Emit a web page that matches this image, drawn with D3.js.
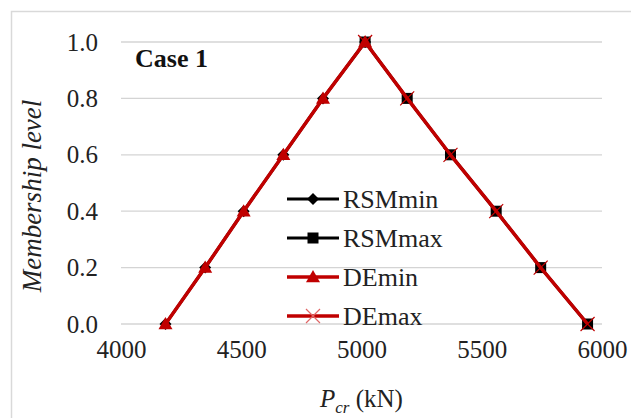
<!DOCTYPE html>
<html>
<head>
<meta charset="utf-8">
<script src="https://cdn.jsdelivr.net/npm/d3@7"></script>
<style>
  html, body { margin: 0; padding: 0; background: #fff; }
  svg { display: block; }
  svg text { font-family: "Liberation Serif", "Times New Roman", Times, "DejaVu Serif", serif; }
</style>
</head>
<body>
<svg id="chart" width="631" height="418"></svg>
<script>
// ---- data ----
const levels = [0, 0.2, 0.4, 0.6, 0.8, 1.0];
const rsmMin = [4185, 4350, 4510, 4675, 4840, 5015];
const rsmMax = [5940, 5745, 5560, 5370, 5190, 5015];
const deMin  = [4185, 4350, 4510, 4675, 4840, 5015];
const deMax  = [5940, 5745, 5560, 5370, 5190, 5015];
const xTicks = [4000, 4500, 5000, 5500, 6000];
const yTicks = [0, 0.2, 0.4, 0.6, 0.8, 1.0];
const seriesNames = ["RSMmin", "RSMmax", "DEmin", "DEmax"];

const RED = "#c00000";

const svg = d3.select("#chart");
const plot = { left: 121, right: 602, top: 42, bottom: 324 };

// chart area border
svg.append("rect").attr("x", 11.5).attr("y", 11.5).attr("width", 640).attr("height", 430)
  .attr("fill", "#fff").attr("stroke", "#d9d9d9").attr("stroke-width", 1.5);

const x = d3.scaleLinear().domain([4000, 6000]).range([plot.left, plot.right]);
const y = d3.scaleLinear().domain([0, 1]).range([plot.bottom, plot.top]);

// gridlines
svg.append("g").selectAll("line").data(yTicks).join("line")
  .attr("x1", plot.left).attr("x2", plot.right)
  .attr("y1", d => y(d)).attr("y2", d => y(d))
  .attr("stroke", "#d4d4d4").attr("stroke-width", 1.3);

function styleText(sel, size) {
  sel.attr("font-family", null).style("font-size", size + "px").attr("fill", "#222");
}

// y axis labels
const yAxis = d3.axisLeft(y).tickValues(yTicks).tickFormat(d3.format(".1f")).tickSize(0).tickPadding(23);
svg.append("g").attr("transform", `translate(${plot.left},0)`).call(yAxis)
  .attr("font-family", null).attr("font-size", null)
  .call(g => g.select(".domain").remove())
  .call(g => styleText(g.selectAll("text"), 25));

// x axis labels
const xAxis = d3.axisBottom(x).tickValues(xTicks).tickFormat(d3.format("d")).tickSize(0).tickPadding(16);
svg.append("g").attr("transform", `translate(0,${plot.bottom})`).call(xAxis)
  .attr("font-family", null).attr("font-size", null)
  .call(g => g.select(".domain").remove())
  .call(g => styleText(g.selectAll("text"), 25));

// series
const series = [
  { name: "RSMmin", xs: rsmMin, color: "#000", marker: "diamond", width: 3 },
  { name: "RSMmax", xs: rsmMax, color: "#000", marker: "square", width: 3 },
  { name: "DEmin",  xs: deMin,  color: RED,    marker: "triangle", width: 3.5 },
  { name: "DEmax",  xs: deMax,  color: RED,    marker: "cross", width: 3.5 },
];

function drawMarker(g, type, cx, cy, color, legend) {
  if (type === "diamond") {
    const s = 6;
    g.append("path").attr("d", `M${cx},${cy - s}L${cx + s},${cy}L${cx},${cy + s}L${cx - s},${cy}Z`).attr("fill", color);
  } else if (type === "square") {
    const s = 5.5;
    g.append("rect").attr("x", cx - s).attr("y", cy - s).attr("width", 2 * s).attr("height", 2 * s).attr("fill", color);
  } else if (type === "triangle") {
    const s = 7;
    g.append("path").attr("d", `M${cx},${cy - s}L${cx + s},${cy + s * 0.75}L${cx - s},${cy + s * 0.75}Z`).attr("fill", color);
  } else if (type === "cross") {
    const s = 7;
    g.append("path").attr("d", `M${cx - s},${cy - s}L${cx + s},${cy + s}M${cx - s},${cy + s}L${cx + s},${cy - s}`)
      .attr("stroke", legend ? "#e06666" : color).attr("stroke-width", 1.2).attr("fill", "none");
  }
}

const line = d3.line().x(d => x(d[0])).y(d => y(d[1]));
const dataG = svg.append("g");
series.forEach(s => {
  const pts = s.xs.map((v, i) => [v, levels[i]]);
  dataG.append("path").datum(pts).attr("d", line)
    .attr("fill", "none").attr("stroke", s.color).attr("stroke-width", s.width)
    .attr("stroke-linejoin", "round");
  pts.forEach(p => drawMarker(dataG, s.marker, x(p[0]), y(p[1]), s.color, false));
});

// legend
const leg = svg.append("g");
const legY0 = 199, legStep = 39;
series.forEach((s, i) => {
  const yy = legY0 + i * legStep;
  leg.append("line").attr("x1", 287).attr("x2", 339).attr("y1", yy).attr("y2", yy)
    .attr("stroke", s.color).attr("stroke-width", s.width);
  drawMarker(leg, s.marker, 313, yy, s.color, true);
  leg.append("text").attr("x", 343).attr("y", yy).attr("dy", "0.34em")
    .style("font-size", "26px").attr("fill", "#222").text(seriesNames[i]);
});

// Case 1
svg.append("text").attr("x", 135).attr("y", 67)
  .style("font-size", "26px").style("font-weight", "bold").attr("fill", "#111").text("Case 1");

// x axis title
const xt = svg.append("text").attr("x", (plot.left + plot.right) / 2).attr("y", 407)
  .attr("text-anchor", "middle").style("font-size", "25px").attr("fill", "#222");
xt.append("tspan").style("font-style", "italic").text("P");
xt.append("tspan").style("font-style", "italic").style("font-size", "17px").attr("dy", 6).text("cr");
xt.append("tspan").attr("dy", -6).text(" (kN)");

// y axis title
svg.append("text").attr("transform", `translate(41,196) rotate(-90)`)
  .attr("text-anchor", "middle").style("font-size", "27px")
  .style("font-style", "italic").attr("fill", "#222").text("Membership level");
</script>
</body>
</html>
